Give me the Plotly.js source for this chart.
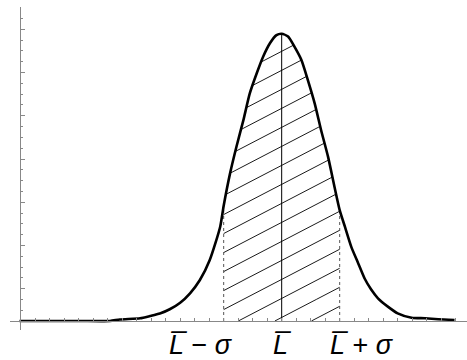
<!DOCTYPE html>
<html>
<head>
<meta charset="utf-8">
<script src="https://cdn.plot.ly/plotly-3.0.1.min.js"></script>
<style>
  body { margin: 0; background: #fff; }
  #chart { width: 467px; height: 360px; }
</style>
</head>
<body>
<div id="chart"></div>
<script>
// curve, x in units of sigma around L-bar
var curveX = [-4.52, -3.5, -2.96, -2.79, -2.44, -2.27, -2.10, -1.93, -1.75, -1.58, -1.41, -1.24, -1.06, -1.00,
  -0.89, -0.78, -0.66, -0.55, -0.43, -0.32, -0.20, -0.09, 0.00, 0.11, 0.22, 0.34, 0.45, 0.57, 0.68, 0.80,
  0.91, 1.00, 1.09, 1.20, 1.32, 1.43, 1.54, 1.66, 1.83, 2.00, 2.24, 2.47, 2.70, 2.98];
var curveY = [0, 0, 0, 0.0021, 0.0038, 0.0069, 0.0104, 0.0163, 0.0254, 0.0385, 0.0569, 0.0847, 0.131, 0.160,
  0.205, 0.242, 0.279, 0.316, 0.344, 0.367, 0.386, 0.397, 0.399, 0.395, 0.381, 0.3625, 0.335, 0.302, 0.265, 0.228,
  0.1865, 0.154, 0.131, 0.103, 0.080, 0.059, 0.044, 0.0315, 0.020, 0.0107, 0.0046, 0.0038, 0.0024, 0.0014];

var markX = [-1, 0, 1];               // L-sigma, L, L+sigma
var labelText = ["<i>L\u0305</i> \u2212 <i>\u03c3</i>", "<i>L\u0305</i>", "<i>L\u0305</i> + <i>\u03c3</i>"];
var labelX = [-1.39, 0.02, 1.38];

function f(x) {
  for (var i = 0; i < curveX.length - 1; i++) {
    if (x >= curveX[i] && x <= curveX[i + 1]) {
      var t = (x - curveX[i]) / (curveX[i + 1] - curveX[i]);
      return curveY[i] + t * (curveY[i + 1] - curveY[i]);
    }
  }
  return 0;
}

// hatch lines inside the +/- sigma band
var slope = 0.0419, gap = 0.0264, c0 = 0.03134;
var hx = [], hy = [];
for (var k = -4; k < 20; k++) {
  var c = c0 + k * gap;
  var open = false;
  for (var x = markX[0]; x <= markX[2] + 1e-9; x += 0.002) {
    var y = c + slope * x;
    if (y >= 0 && y <= f(x)) {
      hx.push(x); hy.push(y); open = true;
    } else if (open) {
      hx.push(null); hy.push(null); open = false;
    }
  }
  if (open) { hx.push(null); hy.push(null); }
}

var traces = [
  { x: hx, y: hy, mode: "lines", line: { color: "#000", width: 0.9 }, hoverinfo: "skip" },
  { x: [markX[0], markX[0]], y: [0, f(markX[0])], mode: "lines", line: { color: "#555", width: 1, dash: "dot" } },
  { x: [markX[2], markX[2]], y: [0, f(markX[2])], mode: "lines", line: { color: "#555", width: 1, dash: "dot" } },
  { x: [markX[1], markX[1]], y: [0, f(markX[1])], mode: "lines", line: { color: "#000", width: 1 } },
  { x: curveX, y: curveY, mode: "lines", line: { color: "#000", width: 2.6, shape: "spline", smoothing: 0.6 } }
];

var annotations = labelText.map(function (t, i) {
  return {
    x: labelX[i], xref: "x", y: -0.046, yref: "paper", yanchor: "middle", xanchor: "center",
    text: t, showarrow: false,
    font: { family: "Liberation Sans, Arial, sans-serif", size: 27, color: "#000" }
  };
});

var layout = {
  width: 467, height: 360,
  margin: { l: 10, r: 0, t: 7, b: 30 },
  paper_bgcolor: "#fff", plot_bgcolor: "#fff",
  showlegend: false,
  xaxis: {
    range: [-4.684, 3.195], anchor: "free", position: 0.0279,
    showline: true, linecolor: "#888", linewidth: 1,
    zeroline: false, showgrid: false,
    ticks: "inside", tickmode: "linear", tick0: 0, dtick: 0.25, ticklen: 3, tickcolor: "#888",
    showticklabels: false
  },
  yaxis: {
    range: [-0.0125, 0.4361], anchor: "free", position: 0.0208,
    showline: true, linecolor: "#888", linewidth: 1,
    zeroline: false, showgrid: false,
    ticks: "inside", tickmode: "linear", tick0: 0.045, dtick: 0.06, ticklen: 4, tickcolor: "#888",
    minor: { tickmode: "linear", tick0: 0, dtick: 0.015, ticks: "inside", ticklen: 2.5, tickcolor: "#888" },
    showticklabels: false
  },
  annotations: annotations
};

Plotly.newPlot("chart", traces, layout, { staticPlot: true });
</script>
</body>
</html>
